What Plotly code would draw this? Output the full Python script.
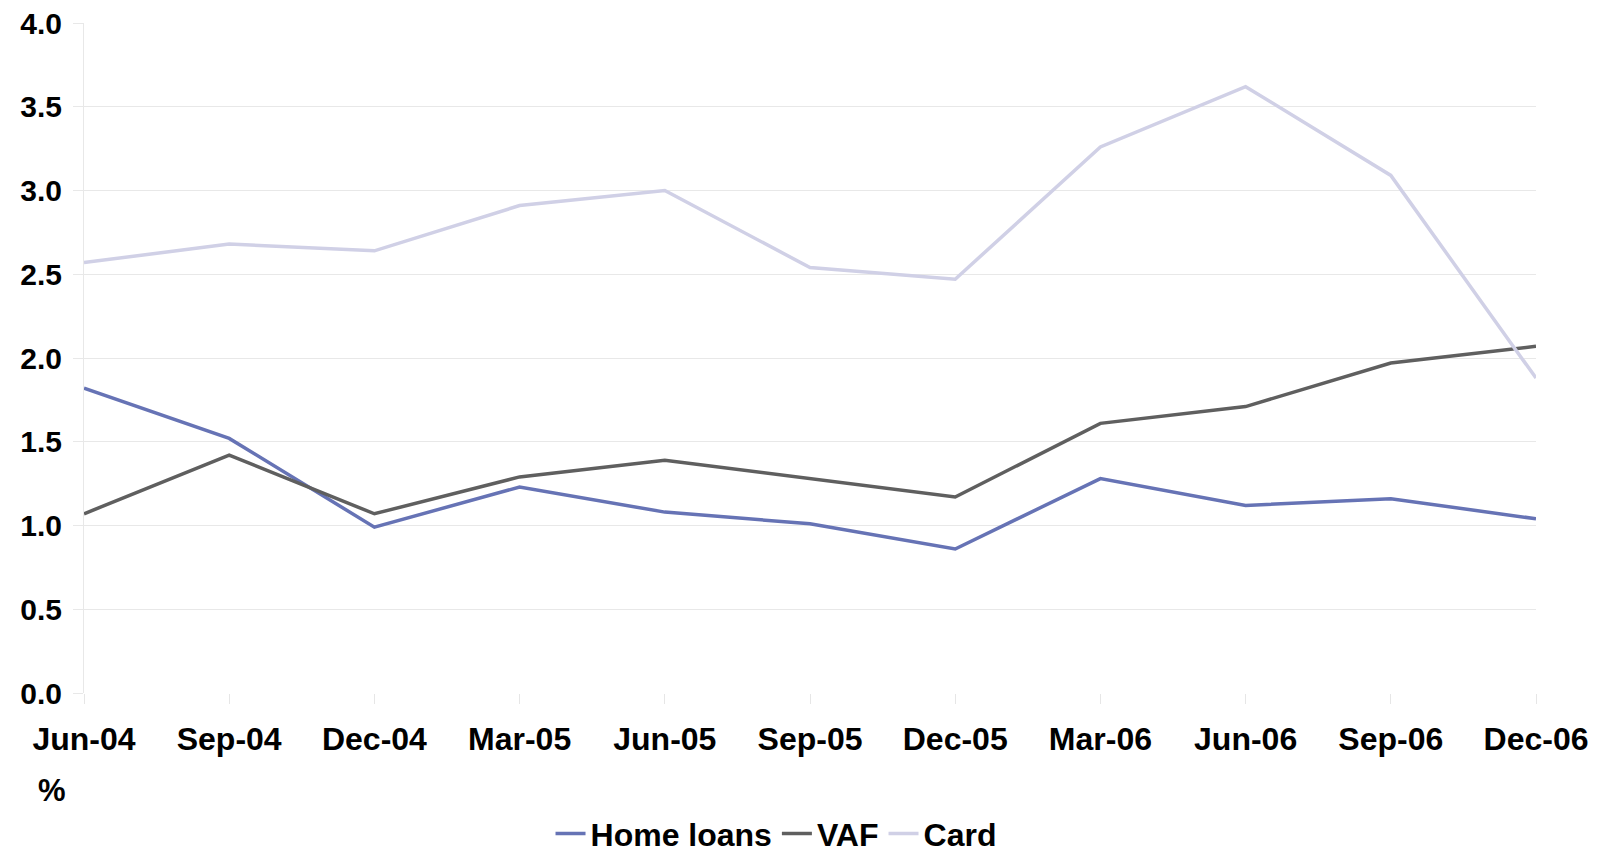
import plotly.graph_objects as go

quarters = ["Jun-04", "Sep-04", "Dec-04", "Mar-05", "Jun-05", "Sep-05",
            "Dec-05", "Mar-06", "Jun-06", "Sep-06", "Dec-06"]
home_loans = [1.82, 1.52, 0.99, 1.23, 1.08, 1.01, 0.86, 1.28, 1.12, 1.16, 1.04]
vaf = [1.07, 1.42, 1.07, 1.29, 1.39, 1.28, 1.17, 1.61, 1.71, 1.97, 2.07]
card = [2.57, 2.68, 2.64, 2.91, 3.00, 2.54, 2.47, 3.26, 3.62, 3.09, 1.88]

series = [("Home loans", home_loans, "#6673b5"),
          ("VAF", vaf, "#5f5f5f"),
          ("Card", card, "#d0d0e6")]

FONT = "Arial, 'Liberation Sans', sans-serif"

fig = go.Figure()
for name, vals, col in series:
    fig.add_trace(go.Scatter(x=quarters, y=vals, name=name, mode="lines",
                             line=dict(color=col, width=3.5)))

fig.update_layout(
    width=1599, height=848,
    margin=dict(l=76, r=71, t=15, b=163, autoexpand=False),
    plot_bgcolor="white", paper_bgcolor="white",
    font=dict(family=FONT, color="black", size=31),
    showlegend=True,
    legend=dict(orientation="h", x=0.4766, xanchor="center", y=-0.21,
                yanchor="middle", font=dict(size=32, weight="bold"),
                bgcolor="rgba(0,0,0,0)"),
    xaxis=dict(type="category", range=[0, 10], showgrid=False,
               ticks="outside", ticklen=10, tickcolor="#e6e6e6", tickwidth=1,
               showline=False, zeroline=False, automargin=False,
               ticklabeloverflow="allow",
               tickfont=dict(size=32, weight="bold"), ticklabelstandoff=8),
    yaxis=dict(range=[0, 4], dtick=0.5, tickformat=".1f",
               showgrid=True, gridcolor="#e8e8e8", gridwidth=1,
               ticks="outside", ticklen=10, tickcolor="#e8e8e8",
               showline=True, linecolor="#e8e8e8", linewidth=1,
               zeroline=False, automargin=False,
               ticklabeloverflow="allow",
               tickfont=dict(size=30, weight="bold"), ticklabelstandoff=5),
    annotations=[dict(text="%", x=-0.033, xref="paper", xanchor="left",
                      y=-0.145, yref="paper", yanchor="middle", showarrow=False,
                      font=dict(size=31, weight="bold", family=FONT))],
)

fig.write_html("out.html")
